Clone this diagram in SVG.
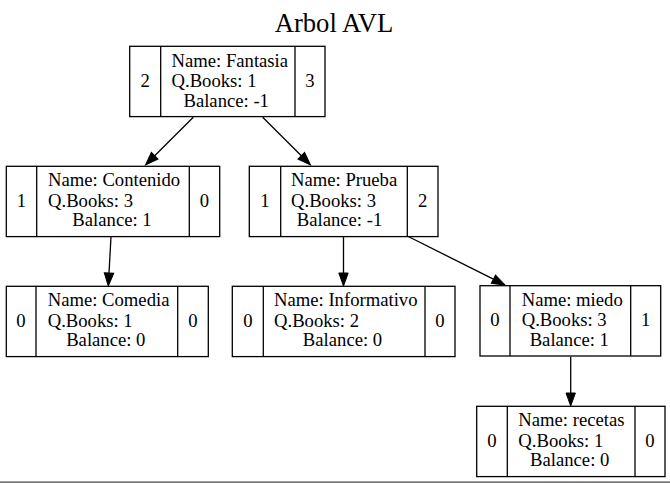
<svg xmlns="http://www.w3.org/2000/svg" width="670" height="483" viewBox="0 0 670 483">
<defs>
<style>
.box{fill:none;stroke:#000;stroke-width:1.3}
text{font-family:'Liberation Serif','Times New Roman',Times,'DejaVu Serif',serif}
.t{font-size:18.67px;fill:#000}
.m{text-anchor:middle}
.edge{stroke:#000;stroke-width:1.3;fill:none;marker-end:url(#arr)}
.title{font-size:26.67px;fill:#000;text-anchor:middle}
</style>
<marker id="arr" markerUnits="userSpaceOnUse" markerWidth="14" markerHeight="10" refX="0" refY="5" orient="auto" viewBox="0 0 14 10" overflow="visible">
<path d="M0,0.3 L13,5 L0,9.7 z" fill="#000" stroke="#000" stroke-width="1"/>
</marker>
</defs>
<rect width="670" height="483" fill="#fff"/>
<text class="title" x="334" y="32" font-family="Liberation Serif, serif">Arbol AVL</text>

<g id="edges">
<line class="edge" x1="193.3" y1="117.3" x2="154.7" y2="155.8"/>
<line class="edge" x1="262.7" y1="117.3" x2="301.3" y2="155.8"/>
<line class="edge" x1="111" y1="236.7" x2="109" y2="273"/>
<line class="edge" x1="343.5" y1="236.7" x2="343.5" y2="273"/>
<line class="edge" x1="408.3" y1="236.5" x2="493.4" y2="279.2"/>
<line class="edge" x1="570.7" y1="356.7" x2="570.7" y2="393"/>
</g>

<g id="node-fantasia" font-family="Liberation Serif, serif">
<rect class="box" x="129.7" y="46.3" width="195.3" height="70.3"/>
<line class="box" x1="160.7" y1="46.3" x2="160.7" y2="116.6"/>
<line class="box" x1="295" y1="46.3" x2="295" y2="116.6"/>
<text class="t m" x="145.2" y="87">2</text>
<text class="t" x="171.5" y="66.5">Name: Fantasia</text>
<text class="t" x="171.5" y="87">Q.Books: 1</text>
<text class="t m" x="226.2" y="106.5">Balance: -1</text>
<text class="t m" x="310" y="87">3</text>
</g>

<g id="node-contenido">
<rect class="box" x="6.3" y="166.3" width="213.4" height="70.3"/>
<line class="box" x1="36.7" y1="166.3" x2="36.7" y2="236.6"/>
<line class="box" x1="189.3" y1="166.3" x2="189.3" y2="236.6"/>
<text class="t m" x="21.5" y="206.7">1</text>
<text class="t" x="48" y="186.3">Name: Contenido</text>
<text class="t" x="48" y="206.7">Q.Books: 3</text>
<text class="t m" x="112" y="226.3">Balance: 1</text>
<text class="t m" x="204.5" y="206.7">0</text>
</g>

<g id="node-prueba">
<rect class="box" x="249.3" y="166.3" width="188.7" height="70.3"/>
<line class="box" x1="280.7" y1="166.3" x2="280.7" y2="236.6"/>
<line class="box" x1="407.3" y1="166.3" x2="407.3" y2="236.6"/>
<text class="t m" x="265" y="206.7">1</text>
<text class="t" x="291" y="186.3">Name: Prueba</text>
<text class="t" x="291" y="206.7">Q.Books: 3</text>
<text class="t m" x="339.5" y="226.3">Balance: -1</text>
<text class="t m" x="422.7" y="206.7">2</text>
</g>

<g id="node-comedia">
<rect class="box" x="6.3" y="286.3" width="202" height="70.3"/>
<line class="box" x1="36" y1="286.3" x2="36" y2="356.6"/>
<line class="box" x1="177.7" y1="286.3" x2="177.7" y2="356.6"/>
<text class="t m" x="21" y="326.7">0</text>
<text class="t" x="47.7" y="306.3">Name: Comedia</text>
<text class="t" x="47.7" y="326.7">Q.Books: 1</text>
<text class="t m" x="105.8" y="346.3">Balance: 0</text>
<text class="t m" x="193" y="326.7">0</text>
</g>

<g id="node-informativo">
<rect class="box" x="232.3" y="286.3" width="222.7" height="70.3"/>
<line class="box" x1="263.3" y1="286.3" x2="263.3" y2="356.6"/>
<line class="box" x1="425" y1="286.3" x2="425" y2="356.6"/>
<text class="t m" x="247.8" y="326.7">0</text>
<text class="t" x="274" y="306.3">Name: Informativo</text>
<text class="t" x="274" y="326.7">Q.Books: 2</text>
<text class="t m" x="342.5" y="346.3">Balance: 0</text>
<text class="t m" x="440" y="326.7">0</text>
</g>

<g id="node-miedo">
<rect class="box" x="480" y="285.7" width="180.7" height="70.3"/>
<line class="box" x1="510" y1="285.7" x2="510" y2="356"/>
<line class="box" x1="630.7" y1="285.7" x2="630.7" y2="356"/>
<text class="t m" x="495" y="326.3">0</text>
<text class="t" x="521.7" y="306">Name: miedo</text>
<text class="t" x="521.7" y="326.3">Q.Books: 3</text>
<text class="t m" x="569.3" y="346">Balance: 1</text>
<text class="t m" x="645.7" y="326.3">1</text>
</g>

<g id="node-recetas">
<rect class="box" x="476.7" y="406.3" width="188.3" height="70.3"/>
<line class="box" x1="507.3" y1="406.3" x2="507.3" y2="476.6"/>
<line class="box" x1="635" y1="406.3" x2="635" y2="476.6"/>
<text class="t m" x="492" y="446.7">0</text>
<text class="t" x="518.3" y="426.3">Name: recetas</text>
<text class="t" x="518.3" y="446.7">Q.Books: 1</text>
<text class="t m" x="569.7" y="466.3">Balance: 0</text>
<text class="t m" x="650" y="446.7">0</text>
</g>

<rect x="0" y="481.3" width="670" height="1.7" fill="#777"/>
</svg>
